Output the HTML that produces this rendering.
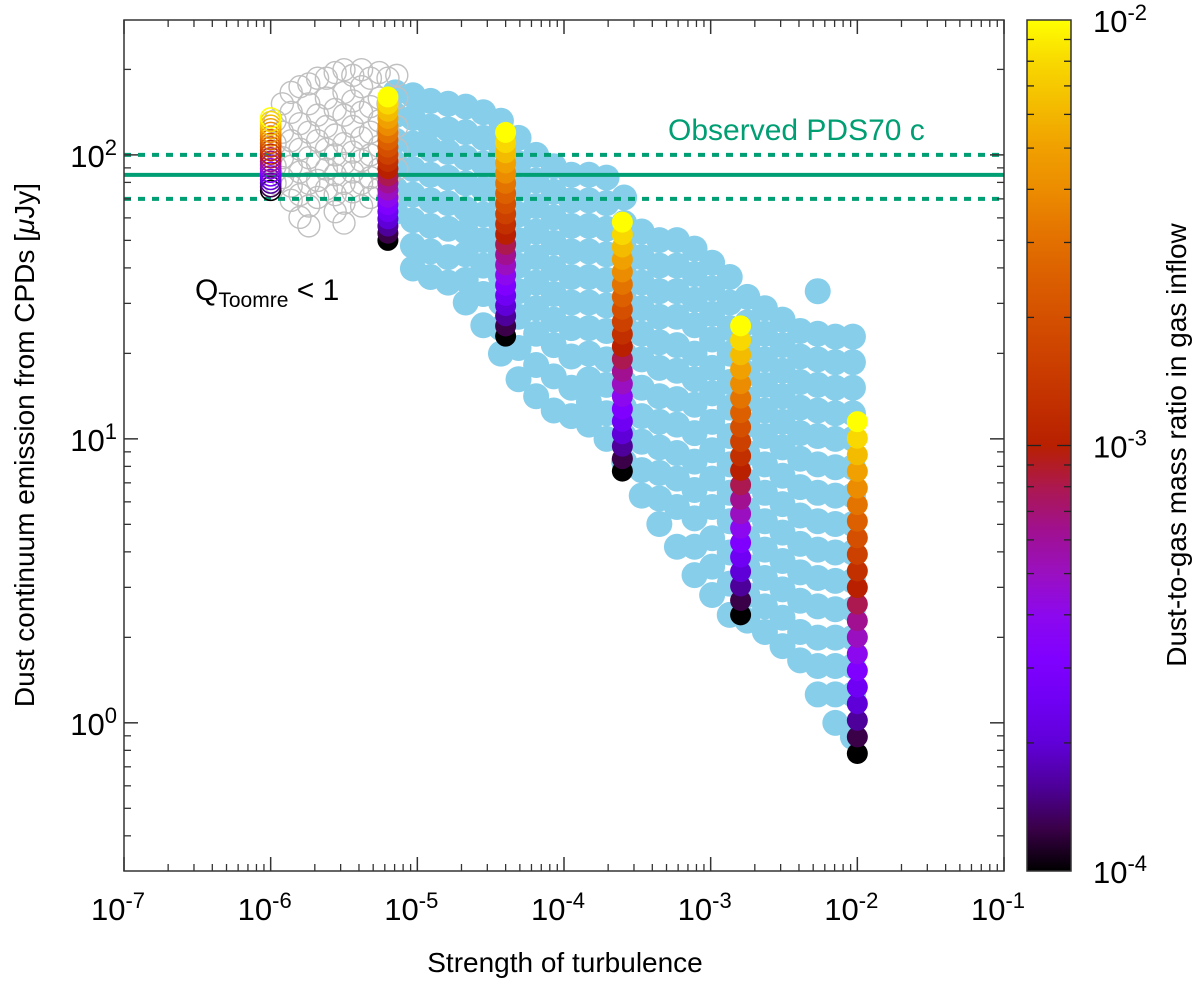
<!DOCTYPE html>
<html><head><meta charset="utf-8">
<style>
html,body{margin:0;padding:0;background:#fff;}
svg{display:block;font-family:"Liberation Sans",Arial,sans-serif;}
</style></head>
<body>
<svg id="chart" width="1200" height="981" viewBox="0 0 1200 981" xmlns="http://www.w3.org/2000/svg">
<g id="plot"></g>
<g id="axes"></g>
</svg>
<script>
// ---- data ----
const xTickExps = [-7,-6,-5,-4,-3,-2,-1];
const yTickExps = [0,1,2];
const cbTickExps = [-4,-3,-2];
const observedFlux = 85;
const observedLow = 70;
const observedHigh = 100;
// colored model columns (alpha, flux at dust/gas=1e-2 (top), at 1e-4 (bottom))
const colAlpha = [1e-6, 6.3e-6, 4e-5, 2.5e-4, 1.6e-3, 1e-2];
const colTop = [135, 160, 120, 58, 25, 11.5];
const colBottom = [75, 50, 23, 7.7, 2.4, 0.78];
const colOpen = [true, false, false, false, false, false];
const ratioExps = [-4,-3.9,-3.8,-3.7,-3.6,-3.5,-3.4,-3.3,-3.2,-3.1,-3,-2.9,-2.8,-2.7,-2.6,-2.5,-2.4,-2.3,-2.2,-2.1,-2];
// blue cloud: log10(alpha) columns with log10(flux) values
const blueLogAlpha = [-5.15,-5.03,-4.91,-4.79,-4.67,-4.55,-4.43,-4.31,-4.19,-4.07,-3.95,-3.83,-3.71,-3.59,-3.47,-3.35,-3.23,-3.11,-2.99,-2.87,-2.75,-2.63,-2.51,-2.39,-2.27,-2.15,-2.03];
const blueLogFlux = [
 [2.22,2.14,2.05,1.97,1.88,1.80],
 [2.21,2.13,2.04,1.95,1.86,1.77,1.68,1.60],
 [2.19,2.10,2.02,1.93,1.84,1.75,1.66,1.57],
 [2.18,2.09,2.01,1.92,1.83,1.74,1.64,1.55],
 [2.17,2.08,1.99,1.90,1.81,1.73,1.65,1.56,1.48],
 [2.15,2.06,1.97,1.88,1.79,1.70,1.61,1.51,1.40],
 [2.12,2.03,1.94,1.85,1.76,1.66,1.57,1.48,1.39,1.30],
 [2.06,1.97,1.88,1.79,1.70,1.61,1.52,1.43,1.32,1.21],
 [2.00,1.91,1.82,1.73,1.64,1.55,1.46,1.37,1.26,1.15],
 [1.96,1.87,1.78,1.69,1.60,1.51,1.42,1.33,1.22,1.10],
 [1.93,1.84,1.75,1.66,1.57,1.48,1.39,1.29,1.18,1.08],
 [1.93,1.84,1.75,1.66,1.57,1.48,1.39,1.30,1.21,1.13,1.05],
 [1.92,1.83,1.74,1.65,1.56,1.47,1.38,1.28,1.19,1.09,1.00],
 [1.85,1.76,1.67,1.58,1.49,1.40,1.30,1.20,1.11,1.01,0.92],
 [1.73,1.64,1.55,1.46,1.37,1.28,1.18,1.08,0.99,0.89,0.80],
 [1.70,1.61,1.52,1.43,1.34,1.25,1.15,1.06,0.97,0.88,0.79,0.70],
 [1.70,1.61,1.52,1.43,1.33,1.24,1.14,1.05,0.95,0.86,0.76,0.62],
 [1.67,1.58,1.49,1.40,1.30,1.21,1.12,1.02,0.92,0.82,0.72,0.62,0.52],
 [1.62,1.53,1.44,1.35,1.25,1.16,1.06,0.96,0.86,0.76,0.65,0.55,0.45],
 [1.57,1.48,1.39,1.30,1.20,1.11,1.01,0.91,0.81,0.71,0.60,0.49,0.38],
 [1.50,1.41,1.32,1.23,1.14,1.05,0.95,0.85,0.75,0.65,0.55,0.45,0.36],
 [1.46,1.37,1.28,1.19,1.10,1.01,0.91,0.81,0.71,0.61,0.51,0.41,0.32],
 [1.42,1.33,1.24,1.15,1.06,0.97,0.87,0.77,0.67,0.57,0.47,0.37,0.27],
 [1.38,1.29,1.20,1.11,1.02,0.93,0.83,0.73,0.63,0.53,0.43,0.32,0.22],
 [1.52,1.37,1.28,1.19,1.10,1.01,0.91,0.81,0.71,0.61,0.51,0.41,0.30,0.20,0.10],
 [1.36,1.27,1.18,1.09,1.00,0.90,0.80,0.70,0.60,0.50,0.40,0.30,0.20,0.10,0.00],
 [1.36,1.27,1.18,1.09,1.00,0.90,0.80,0.70,0.60,0.50,0.40,0.30,0.20,0.10,-0.05]
];
// gray open circles (Q_Toomre < 1)
const grayLogAlpha = [-5.97,-5.92,-5.86,-5.8,-5.74,-5.68,-5.62,-5.56,-5.5,-5.44,-5.38,-5.32,-5.26,-5.2,-5.14];
const grayLogFlux = [
 [2.12,2.04,1.96,1.90],
 [2.18,2.08,1.99,1.92],
 [2.22,2.15,2.05,1.96,1.89,1.84],
 [2.24,2.11,2.02,1.94,1.86,1.78],
 [2.25,2.18,2.08,1.99,1.9,1.82,1.75],
 [2.27,2.14,2.05,1.97,1.91,1.85],
 [2.27,2.2,2.1,2.02,1.95,1.88],
 [2.29,2.16,2.07,2.0,1.93,1.86,1.8],
 [2.3,2.22,2.14,2.04,1.97,1.9,1.83,1.76],
 [2.28,2.19,2.1,2.01,1.94,1.87],
 [2.3,2.24,2.15,2.06,1.98,1.9,1.82],
 [2.27,2.17,2.08,2.0,1.92,1.85],
 [2.29,2.2,2.12,2.03,1.95,1.88],
 [2.27,2.18,2.08,1.99,1.92,1.85],
 [2.28,2.2,2.1,2.02,1.95]
];
const cmap = ["#000000","#3a0048","#4e009a","#6000d8","#7000f4","#8000ff","#8c08ee","#9a10c0","#a01090","#ac1850","#b82000","#c23000","#cc4000","#d45000","#dc6000","#e47400","#ec8c00","#f0a000","#f4bc00","#f8d800","#ffff00"];

// ---- geometry ----
const L=124, R=1004, T=20, B=871;
const xMin=-7, xMax=-1;
const yMin=-0.5218, yMax=2.475;
const NS="http://www.w3.org/2000/svg";
function X(a){return L+(Math.log10(a)-xMin)/(xMax-xMin)*(R-L);}
function XL(l){return L+(l-xMin)/(xMax-xMin)*(R-L);}
function Y(f){return B-(Math.log10(f)-yMin)/(yMax-yMin)*(B-T);}
function YL(l){return B-(l-yMin)/(yMax-yMin)*(B-T);}
function el(tag,attrs,parent){const e=document.createElementNS(NS,tag);for(const k in attrs)e.setAttribute(k,attrs[k]);parent.appendChild(e);return e;}
const plot=document.getElementById('plot'), axes=document.getElementById('axes');

const defs=el('defs',{},plot);
const cp=el('clipPath',{id:'clip'},defs);
el('rect',{x:L,y:T,width:R-L,height:B-T},cp);
const clipG=el('g',{'clip-path':'url(#clip)'},plot);

// blue points
const blueG=el('g',{},clipG);


blueLogAlpha.forEach((la,i)=>{blueLogFlux[i].forEach(lf=>{
  const c=el('circle',{cx:XL(la),cy:YL(lf),r:13,fill:'#87ceeb'},blueG);
  
  
});});
// gray open circles
const grayG=el('g',{},clipG);


grayLogAlpha.forEach((la,i)=>{grayLogFlux[i].forEach(lf=>{
  const c=el('circle',{cx:XL(la),cy:YL(lf),r:11,fill:'none',stroke:'#c0c0c0','stroke-width':1.4},grayG);
  
  
});});

// observed lines
[[observedHigh,true],[observedFlux,false],[observedLow,true]].forEach(([v,d])=>{
  const ln=el('line',{x1:L,x2:R,y1:Y(v),y2:Y(v),stroke:'#009e73','stroke-width':4},clipG);
  if(d)ln.setAttribute('stroke-dasharray','7,7');
  
  
});

// colored columns
colAlpha.forEach((a,i)=>{
  const g=el('g',{},clipG);
  
  
  const lt=Math.log10(colTop[i]), lb=Math.log10(colBottom[i]);
  ratioExps.forEach((re,k)=>{
    const frac=(re+4)/2;
    const lf=lb+(lt-lb)*frac;
    const c=el('circle',{cx:X(a),cy:YL(lf),r:colOpen[i]?10:10.5},g);
    if(colOpen[i]){c.setAttribute('fill','none');c.setAttribute('stroke',cmap[k]);c.setAttribute('stroke-width',1.6);}
    else c.setAttribute('fill',cmap[k]);
    
    
  });
});

// annotations
const obs=el('text',{x:668,y:140,'font-size':30,fill:'#009e73'},plot);
obs.textContent='Observed PDS70 c';


const q=el('text',{x:195,y:300,'font-size':30,fill:'#000'},plot);
q.innerHTML='Q<tspan font-size="21" dy="7">Toomre</tspan><tspan dy="-7"> &lt; 1</tspan>';



// frame
const frame=el('rect',{x:L,y:T,width:R-L,height:B-T,fill:'none',stroke:'#333','stroke-width':1.5},axes);



for(let e=xMin;e<=xMax;e++){
  const x=XL(e);
  el('line',{x1:x,x2:x,y1:B,y2:B-14,stroke:'#333','stroke-width':1.5},axes);
  el('line',{x1:x,x2:x,y1:T,y2:T+14,stroke:'#333','stroke-width':1.5},axes);
  if(e<xMax)for(let m=2;m<=9;m++){const xm=XL(e+Math.log10(m));
    el('line',{x1:xm,x2:xm,y1:B,y2:B-7,stroke:'#333','stroke-width':1.3},axes);
    el('line',{x1:xm,x2:xm,y1:T,y2:T+7,stroke:'#333','stroke-width':1.3},axes);}
}
xTickExps.forEach(e=>{
  const t=el('text',{x:XL(e)-6,y:920,'font-size':31,'text-anchor':'middle'},axes);
  t.innerHTML='10<tspan font-size="22" dy="-12">'+e+'</tspan>';
  
  
});
for(let e=-1;e<=2;e++){
  if(e>=0){const y=YL(e);
    el('line',{x1:L,x2:L+14,y1:y,y2:y,stroke:'#333','stroke-width':1.5},axes);
    el('line',{x1:R,x2:R-14,y1:y,y2:y,stroke:'#333','stroke-width':1.5},axes);}
  for(let m=2;m<=9;m++){const l=e+Math.log10(m);if(l<yMin||l>yMax)continue;const y=YL(l);
    el('line',{x1:L,x2:L+7,y1:y,y2:y,stroke:'#333','stroke-width':1.3},axes);
    el('line',{x1:R,x2:R-7,y1:y,y2:y,stroke:'#333','stroke-width':1.3},axes);}
}
yTickExps.forEach(e=>{
  const t=el('text',{x:117,y:YL(e)+12,'font-size':31,'text-anchor':'end'},axes);
  t.innerHTML='10<tspan font-size="22" dy="-12">'+e+'</tspan>';
  
  
});
const xt=el('text',{x:565,y:972,'font-size':28,'text-anchor':'middle'},axes);
xt.textContent='Strength of turbulence';


const yt=el('text',{x:0,y:0,'font-size':28,'text-anchor':'middle',transform:'translate(34,445) rotate(-90)'},axes);
yt.innerHTML='Dust continuum emission from CPDs [<tspan font-style="italic">μ</tspan>Jy]';



// colorbar
const CBL=1027, CBR=1071;
const grad=el('linearGradient',{id:'cbgrad',x1:0,y1:1,x2:0,y2:0},defs);
cmap.forEach((c,k)=>el('stop',{offset:(k/(cmap.length-1)),'stop-color':c},grad));
const cb=el('rect',{x:CBL,y:T,width:CBR-CBL,height:B-T,fill:'url(#cbgrad)',stroke:'#333','stroke-width':1.5},axes);


function CY(l){return B-(l+4)/2*(B-T);}
for(let e=-4;e<-2;e++){
  for(let m=1;m<=9;m++){const l=e+Math.log10(m);const y=CY(l);const len=m===1?14:7;
    if(m===1&&e===-4)continue;
    el('line',{x1:CBL,x2:CBL+len,y1:y,y2:y,stroke:'#222','stroke-width':1.3},axes);
    el('line',{x1:CBR,x2:CBR-len,y1:y,y2:y,stroke:'#222','stroke-width':1.3},axes);}
}
cbTickExps.forEach(e=>{
  const t=el('text',{x:1093,y:CY(e)+12,'font-size':31},axes);
  t.innerHTML='10<tspan font-size="22" dy="-12">'+e+'</tspan>';
  
  
});
const ct=el('text',{x:0,y:0,'font-size':28,'text-anchor':'middle',transform:'translate(1186,445) rotate(-90)'},axes);
ct.textContent='Dust-to-gas mass ratio in gas inflow';


</script>
</body></html>
